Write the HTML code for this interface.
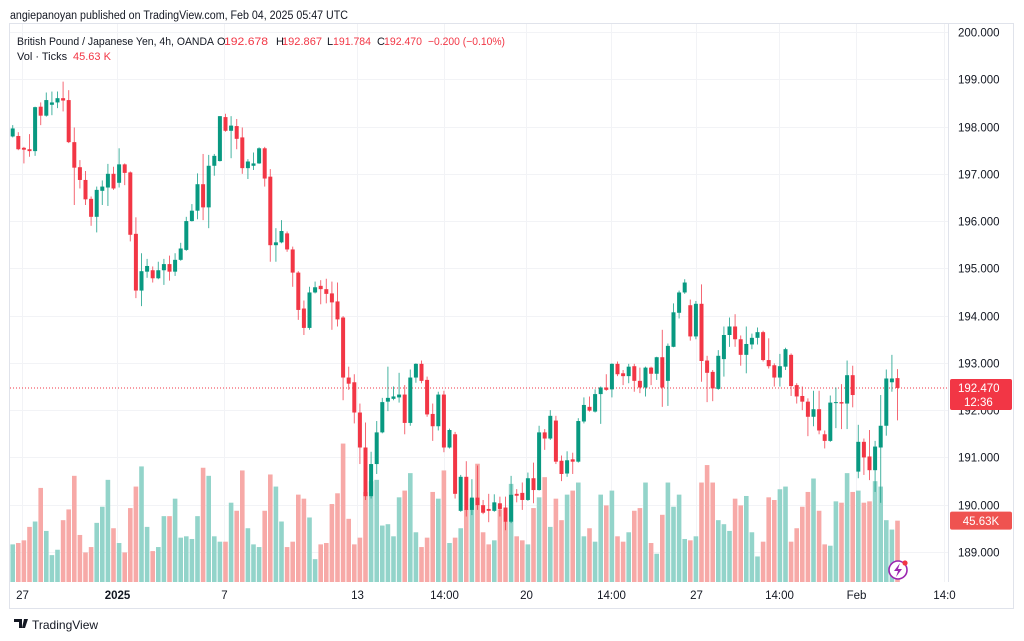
<!DOCTYPE html>
<html><head><meta charset="utf-8"><style>
html,body{margin:0;padding:0;background:#fff;width:1024px;height:641px;overflow:hidden}
svg{display:block;font-family:"Liberation Sans",sans-serif}
</style></head><body>
<svg id="chart" width="1024" height="641" viewBox="0 0 1024 641" xmlns="http://www.w3.org/2000/svg">
<text x="10" y="19" font-size="11.5" fill="#131722" textLength="338" lengthAdjust="spacingAndGlyphs">angiepanoyan published on TradingView.com, Feb 04, 2025 05:47 UTC</text>
<rect x="9.5" y="23.5" width="1004" height="585" fill="#fff" stroke="#e0e3eb"/>
<g id="grid"></g>
<g id="vol"></g>
<g id="candles"></g>
<line x1="948.5" y1="24" x2="948.5" y2="582" stroke="#e0e3eb"/>
<g id="yaxis"></g>
<g id="xaxis"></g>
<g font-size="11">
<text x="17" y="45" fill="#131722" textLength="197" lengthAdjust="spacingAndGlyphs">British Pound / Japanese Yen, 4h, OANDA</text>
<text x="217" y="45" fill="#131722">O</text>
<text x="224" y="45" fill="#f23645" textLength="44" lengthAdjust="spacingAndGlyphs">192.678</text>
<text x="276" y="45" fill="#131722">H</text>
<text x="282" y="45" fill="#f23645" textLength="40" lengthAdjust="spacingAndGlyphs">192.867</text>
<text x="327" y="45" fill="#131722">L</text>
<text x="333" y="45" fill="#f23645" textLength="38" lengthAdjust="spacingAndGlyphs">191.784</text>
<text x="377" y="45" fill="#131722">C</text>
<text x="384" y="45" fill="#f23645" textLength="38" lengthAdjust="spacingAndGlyphs">192.470</text>
<text x="428" y="45" fill="#f23645" textLength="77" lengthAdjust="spacingAndGlyphs">−0.200 (−0.10%)</text>
<text x="17" y="60" fill="#131722">Vol · Ticks</text>
<text x="73" y="60" fill="#f23645">45.63 K</text>
</g>
<g>
<circle cx="898" cy="570" r="9" fill="#fff" stroke="#9c27b0" stroke-width="1.6"/>
<path d="M900 563 L894 571 L898 571 L896 577 L902 569 L898 569 Z" fill="#9c27b0"/>
<circle cx="905" cy="563" r="2.6" fill="#f23645"/>
</g>
<g>
<path d="M14 619 h8 v9 h-3 v-6 h-5 z M24 619 h4 l-3 9 h-3 z" fill="#131722"/>
<text x="32" y="629" font-size="12" fill="#131722">TradingView</text>
</g>
</svg>
<script>
const opens=[197.79,197.80,197.55,197.52,197.48,198.42,198.23,198.46,198.51,198.60,198.56,197.67,197.14,196.87,196.47,196.09,196.64,196.71,197.00,196.81,197.20,197.03,195.73,194.53,194.93,194.96,194.79,194.96,195.09,194.93,195.18,195.39,196.00,196.22,196.78,196.29,197.17,197.27,198.20,197.91,198.01,197.77,197.12,197.17,197.22,197.54,196.94,195.49,195.55,195.74,195.40,194.91,194.15,193.74,194.49,194.63,194.56,194.47,194.30,193.96,192.69,192.59,191.95,191.21,190.18,190.86,191.53,192.18,192.24,192.27,192.33,191.73,192.69,192.98,192.64,191.92,191.66,192.33,191.21,191.49,189.87,190.59,189.89,190.15,189.99,189.91,189.87,190.03,189.94,189.64,190.23,190.25,190.10,190.56,190.31,191.53,191.40,191.78,190.93,190.66,190.96,190.91,191.76,192.07,191.97,192.34,192.48,192.44,192.98,192.78,192.72,192.93,192.62,192.48,192.90,192.77,193.12,192.62,193.34,194.06,194.49,194.22,193.56,194.25,193.05,192.81,192.45,193.08,193.59,193.77,193.50,193.17,193.39,193.53,193.65,193.06,192.95,192.69,192.92,193.17,192.53,192.30,192.18,191.86,192.02,191.49,191.35,192.16,192.17,192.14,192.74,190.70,191.33,191.02,190.73,191.21,191.67,192.59,192.678];
const highs=[198.03,197.88,197.57,197.84,198.42,198.51,198.72,198.74,198.74,198.95,198.77,197.98,197.29,197.06,196.52,196.73,196.86,197.21,197.15,197.54,197.22,197.05,196.08,195.32,195.20,195.04,195.14,195.20,195.27,195.32,195.54,196.09,196.36,197.01,197.42,197.40,197.42,198.22,198.27,198.22,198.16,197.98,197.31,197.45,197.56,197.57,197.10,195.85,196.02,195.78,195.46,194.94,194.32,194.61,194.72,194.75,194.78,194.72,194.70,193.99,192.92,192.76,192.14,191.74,191.12,191.77,192.26,192.92,192.50,192.79,192.53,192.86,192.99,193.05,192.71,192.14,192.39,192.41,191.61,191.54,190.63,190.92,190.54,190.83,190.10,190.23,190.22,190.17,190.17,190.61,190.33,190.47,190.68,190.89,191.67,191.60,192.00,191.88,191.04,191.13,191.10,191.83,192.27,192.29,192.44,192.50,192.76,192.99,193.03,192.85,192.98,192.98,192.90,192.92,192.92,193.13,193.70,193.41,194.26,194.53,194.77,194.34,194.31,194.66,193.15,192.85,193.27,193.77,193.96,194.03,193.58,193.77,193.62,193.75,193.68,193.52,192.99,193.19,193.32,193.20,192.57,192.50,192.25,192.41,192.41,191.57,192.31,192.48,192.55,193.05,192.94,191.69,191.40,191.58,191.35,192.32,192.86,193.17,192.867];
const lows=[197.77,197.50,197.22,197.36,197.38,198.03,198.21,198.24,198.39,198.32,197.65,196.34,196.69,196.34,195.90,195.76,196.34,196.32,196.66,196.71,196.76,195.57,194.37,194.20,194.80,194.70,194.77,194.65,194.74,194.84,195.16,195.37,195.99,196.04,196.02,195.85,196.96,197.26,197.89,197.33,197.52,197.00,196.89,197.08,197.21,196.73,195.14,195.14,195.53,195.35,194.61,193.91,193.59,193.70,194.47,194.24,194.26,193.70,193.77,192.21,192.43,191.72,190.86,190.10,190.13,190.65,191.51,191.98,192.21,192.16,191.49,191.67,192.58,192.57,191.86,191.35,191.57,191.11,191.19,190.13,189.85,189.75,189.78,189.89,189.80,189.63,189.85,189.75,189.46,189.61,190.05,189.89,190.08,190.03,190.30,191.16,191.37,190.86,190.50,190.59,190.65,190.89,191.72,191.97,191.95,191.71,192.41,192.27,192.72,192.53,192.57,192.39,192.36,192.29,192.53,192.64,192.07,192.09,193.33,193.94,194.46,193.47,193.50,192.60,192.17,192.19,192.43,192.71,193.34,193.34,192.94,192.78,193.29,193.39,193.03,192.88,192.50,192.50,192.85,192.30,192.14,192.00,191.45,191.66,191.49,191.19,191.33,191.62,191.60,191.60,192.06,190.56,190.63,190.52,190.27,190.04,191.46,192.39,191.784];
const closes=[197.96,197.52,197.51,197.48,198.41,198.23,198.56,198.51,198.60,198.55,197.67,197.13,196.87,196.46,196.09,196.66,196.73,197.00,196.69,197.20,197.02,195.71,194.53,194.94,195.05,194.79,194.96,195.09,194.93,195.18,195.42,196.00,196.22,196.78,196.29,197.17,197.38,198.22,197.91,198.02,197.74,197.12,197.26,197.22,197.54,196.90,195.49,195.55,195.79,195.40,194.91,194.12,193.74,194.49,194.60,194.56,194.46,194.28,193.92,192.69,192.56,191.95,191.21,190.18,190.86,191.53,192.17,192.26,192.29,192.33,191.73,192.69,192.98,192.62,191.91,191.66,192.33,191.21,191.58,190.23,190.59,189.89,190.15,189.99,189.83,189.87,190.05,189.91,189.64,190.21,190.19,190.10,190.56,190.31,191.53,191.40,191.88,190.91,190.65,190.94,190.91,191.77,192.11,191.99,192.34,192.48,192.43,192.98,192.76,192.72,192.92,192.62,192.48,192.90,192.77,193.12,192.48,193.36,194.07,194.49,194.70,193.56,194.25,193.04,192.79,192.46,193.15,193.59,193.77,193.50,193.17,193.40,193.53,193.65,193.06,192.93,192.69,192.93,193.29,192.51,192.29,192.18,191.86,192.02,191.57,191.35,192.16,192.17,192.14,192.74,192.32,191.33,191.00,190.73,191.23,191.67,192.67,192.67,192.47];
const volumes=[28,29,31,41,45,70,38,20,24,46,54,79,35,22,26,44,56,76,40,29,22,55,71,86,41,23,26,49,49,62,33,34,32,49,85,79,34,30,30,59,53,83,40,28,26,53,80,71,45,26,30,65,62,48,17,28,29,58,66,103,47,28,33,67,75,76,42,43,34,63,68,81,37,26,33,67,62,83,29,33,40,54,62,88,37,28,31,54,45,73,34,31,28,55,63,78,41,62,46,65,68,74,34,40,30,65,57,68,34,30,37,53,55,74,29,21,50,74,56,65,32,31,34,74,87,74,46,43,38,62,57,64,37,19,30,63,61,69,71,30,40,56,67,77,53,28,27,60,59,81,67,68,59,60,75,71,46,39,45.63];
const priceTicks=[200,199,198,197,196,195,194,193,192,191,190,189];
const timeLabels=["27","2025","7","13","14:00","20","14:00","27","14:00","Feb","14:0"];
const timeLabelIdx=[1.6,18.7,37.8,61.5,77,91.7,106.9,122,136.8,150.6,166.3];
const lastPrice=192.47;

const NS="http://www.w3.org/2000/svg";
const X0=12.7, STEP=5.6, Y0=32, PPU=47.27, VBASE=582, VPX=0.744;
const xOf=i=>X0+i*STEP;
const yOf=p=>Y0+(200-p)*PPU;
const vh=v=>v/VPX;
function mk(tag,attrs,parent){const e=document.createElementNS(NS,tag);for(const k in attrs)e.setAttribute(k,attrs[k]);parent.appendChild(e);return e;}
const grid=document.getElementById('grid'),vol=document.getElementById('vol'),cg=document.getElementById('candles'),ya=document.getElementById('yaxis'),xa=document.getElementById('xaxis');
priceTicks.forEach(p=>{
  const y=Math.round(yOf(p))+0.5;
  const l=mk('line',{x1:10,x2:948,y1:y,y2:y,stroke:'#f2f3f6'},grid);
  
  
  const t=mk('text',{x:958,y:y+4,'font-size':'11.5',fill:'#131722'},ya);
  t.textContent=p.toFixed(3);
  
  
});
timeLabels.forEach((s,k)=>{
  const x=Math.round(xOf(timeLabelIdx[k]))+0.5;
  const l=mk('line',{x1:x,x2:x,y1:24,y2:582,stroke:'#f2f3f6'},grid);
  
  
  const t=mk('text',{x:x,y:599,'font-size':'11.5',fill:'#131722','text-anchor':'middle','font-weight':s==='2025'?'bold':'normal'},xa);
  t.textContent=s;
  
  
});
closes.forEach((c,i)=>{
  const up=c>=opens[i];
  const x=xOf(i);
  const h=vh(volumes[i]);
  const r=mk('rect',{x:(x-2.3).toFixed(2),y:(VBASE-h).toFixed(2),width:4.6,height:h.toFixed(2),fill:up?'#93d4ca':'#f7a9a7'},vol);
  
  
});
closes.forEach((c,i)=>{
  const up=c>=opens[i];
  const col=up?'#089981':'#f23645';
  const x=xOf(i);
  const g=mk('g',{},cg);
  
  
  mk('line',{x1:x,x2:x,y1:yOf(highs[i]),y2:yOf(lows[i]),stroke:col,'stroke-width':1,'stroke-opacity':0.75},g);
  const top=yOf(Math.max(c,opens[i])),bot=yOf(Math.min(c,opens[i]));
  mk('rect',{x:(x-2).toFixed(2),y:top.toFixed(2),width:4,height:Math.max(1,bot-top).toFixed(2),fill:col},g);
});
const ly=yOf(lastPrice);
const pl=mk('line',{x1:10,x2:948,y1:ly,y2:ly,stroke:'#f23645','stroke-dasharray':'1 2','stroke-width':1},grid);


const lb=mk('rect',{x:950,y:ly-9,width:62,height:31,rx:2,fill:'#f23645'},ya);


const lt=mk('text',{x:958,y:ly+4,'font-size':'11.5',fill:'#fff'},ya);
lt.textContent=lastPrice.toFixed(3);


const ct=mk('text',{x:964,y:ly+18,'font-size':'11.5',fill:'#fff'},ya);
ct.textContent='12:36';


const vy=VBASE-vh(volumes[volumes.length-1]);
const vb=mk('rect',{x:950,y:vy-9,width:62,height:18,rx:2,fill:'#ef5350'},ya);


const vt=mk('text',{x:981,y:vy+4.5,'font-size':'11.5',fill:'#fff','text-anchor':'middle'},ya);
vt.textContent='45.63K';


</script>
</body></html>
